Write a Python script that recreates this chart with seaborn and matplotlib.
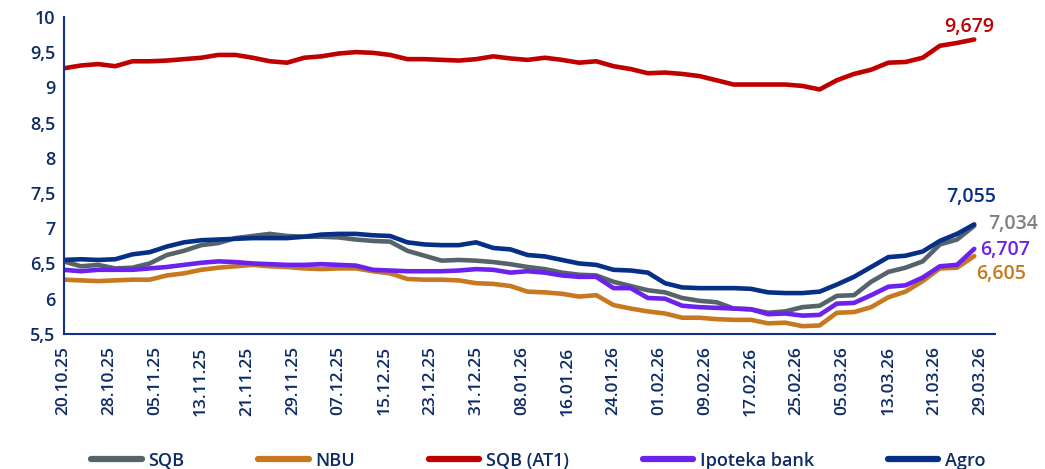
import numpy as np
import pandas as pd
import matplotlib
matplotlib.use("Agg")
import matplotlib.pyplot as plt
import seaborn as sns

# readings every 3 days, 20.10.25 .. 28.03.26
dates = pd.date_range("2025-10-20", periods=54, freq="3D")

sqb = [6.53, 6.46, 6.48, 6.43, 6.44, 6.50, 6.62, 6.68, 6.76, 6.79,
       6.86, 6.89, 6.92, 6.89, 6.88, 6.88, 6.87, 6.84, 6.82, 6.81,
       6.68, 6.61, 6.54, 6.55, 6.54, 6.52, 6.49, 6.45, 6.42, 6.37,
       6.34, 6.33, 6.24, 6.18, 6.12, 6.09, 6.01, 5.97, 5.95, 5.86,
       5.85, 5.80, 5.82, 5.88, 5.90, 6.04, 6.05, 6.24, 6.38, 6.44,
       6.53, 6.77, 6.84, 7.034]
nbu = [6.27, 6.26, 6.25, 6.26, 6.27, 6.27, 6.33, 6.36, 6.41, 6.44,
       6.46, 6.48, 6.46, 6.45, 6.43, 6.42, 6.43, 6.43, 6.39, 6.36,
       6.28, 6.27, 6.27, 6.26, 6.22, 6.21, 6.18, 6.10, 6.09, 6.07,
       6.03, 6.05, 5.91, 5.86, 5.82, 5.79, 5.73, 5.73, 5.71, 5.70,
       5.70, 5.65, 5.66, 5.61, 5.62, 5.80, 5.81, 5.88, 6.02, 6.10,
       6.25, 6.43, 6.44, 6.605]
sqb_at1 = [9.27, 9.31, 9.33, 9.30, 9.37, 9.37, 9.38, 9.40, 9.42, 9.46,
           9.46, 9.42, 9.37, 9.35, 9.42, 9.44, 9.48, 9.50, 9.49, 9.46,
           9.40, 9.40, 9.39, 9.38, 9.40, 9.44, 9.41, 9.39, 9.42, 9.39,
           9.35, 9.37, 9.30, 9.26, 9.20, 9.21, 9.19, 9.16, 9.10, 9.04,
           9.04, 9.04, 9.04, 9.02, 8.97, 9.10, 9.19, 9.25, 9.35, 9.36,
           9.42, 9.59, 9.63, 9.679]
ipoteka = [6.41, 6.39, 6.41, 6.41, 6.41, 6.43, 6.45, 6.48, 6.51, 6.53,
           6.52, 6.50, 6.49, 6.48, 6.48, 6.49, 6.48, 6.47, 6.41, 6.40,
           6.39, 6.39, 6.39, 6.40, 6.42, 6.41, 6.37, 6.39, 6.37, 6.33,
           6.31, 6.31, 6.15, 6.15, 6.01, 6.00, 5.90, 5.88, 5.87, 5.86,
           5.85, 5.78, 5.79, 5.76, 5.77, 5.93, 5.94, 6.05, 6.17, 6.19,
           6.30, 6.46, 6.48, 6.707]
agro = [6.55, 6.56, 6.55, 6.56, 6.63, 6.66, 6.74, 6.80, 6.83, 6.84,
        6.85, 6.86, 6.86, 6.86, 6.88, 6.91, 6.92, 6.92, 6.90, 6.89,
        6.80, 6.77, 6.76, 6.76, 6.80, 6.72, 6.70, 6.62, 6.60, 6.55,
        6.50, 6.48, 6.41, 6.40, 6.37, 6.22, 6.16, 6.15, 6.15, 6.15,
        6.14, 6.09, 6.08, 6.08, 6.10, 6.20, 6.31, 6.45, 6.59, 6.61,
        6.67, 6.82, 6.92, 7.055]

series_names = ["SQB", "NBU", "SQB (AT1)", "Ipoteka bank", "Agro"]
colors = ["#56636b", "#c8781f", "#c00000", "#6a22ec", "#062f86"]
navy = "#0d2b66"

df = pd.DataFrame({"date": dates, "SQB": sqb, "NBU": nbu, "SQB (AT1)": sqb_at1,
                   "Ipoteka bank": ipoteka, "Agro": agro})
long_df = df.melt(id_vars="date", var_name="bank", value_name="yield")

sns.set_style("white")
plt.rcParams["font.family"] = ["Open Sans", "DejaVu Sans"]

fig = plt.figure(figsize=(10.45, 4.69), dpi=100)
ax = fig.add_axes([0.061, 0.288, 0.891, 0.676])

sns.lineplot(data=long_df, x="date", y="yield", hue="bank", hue_order=series_names,
             palette=colors, linewidth=3.3, ax=ax, legend=True)

ax.set_ylim(5.5, 10)
yt = np.arange(5.5, 10.01, 0.5)
ax.set_yticks(yt)
ax.set_yticklabels([f"{v:g}".replace(".", ",") for v in yt],
                   fontsize=13, color=navy, fontweight="semibold")

xt = pd.date_range("2025-10-20", periods=21, freq="8D")
ax.set_xticks(xt)
ax.set_xticklabels([d.strftime("%d.%m.%y") for d in xt], rotation=90,
                   fontsize=12.5, color=navy, fontweight="semibold")
ax.set_xlim(pd.Timestamp("2025-10-20"), pd.Timestamp("2025-10-20") + pd.Timedelta(days=162.6))

ax.set_xlabel("")
ax.set_ylabel("")
for side in ["top", "right"]:
    ax.spines[side].set_visible(False)
for side in ["left", "bottom"]:
    ax.spines[side].set_color("#12308a")
    ax.spines[side].set_linewidth(1.5)
ax.tick_params(axis="x", direction="out", length=6, width=1.5, color="#12308a", pad=3)
ax.tick_params(axis="y", length=0, pad=6)
ax.grid(False)

# end-of-series value labels
last = df.iloc[-1]
offsets = {"SQB": (14, -8), "NBU": (2, -28), "SQB (AT1)": (-30, 2),
           "Ipoteka bank": (6, -11), "Agro": (-28, 17)}
for name, col in zip(series_names, colors):
    v = last[name]
    ax.annotate(f"{v:.3f}".replace(".", ","), xy=(last["date"], v),
                xytext=offsets[name], textcoords="offset pixels",
                fontsize=14, color="#7f7f7f" if name == "SQB" else col,
                fontweight="semibold", va="bottom", ha="left", annotation_clip=False)

handles, labels = ax.get_legend_handles_labels()
ax.get_legend().remove()
fig.legend(handles, labels, loc="center", bbox_to_anchor=(0.515, 0.018), ncol=5,
           frameon=False, handlelength=2.8, columnspacing=4.1, handletextpad=0.35,
           prop={"size": 13, "weight": "semibold"}, labelcolor=navy)
for h in fig.legends[0].get_lines():
    h.set_linewidth(4.5)

fig.savefig("out.png", dpi=100)
